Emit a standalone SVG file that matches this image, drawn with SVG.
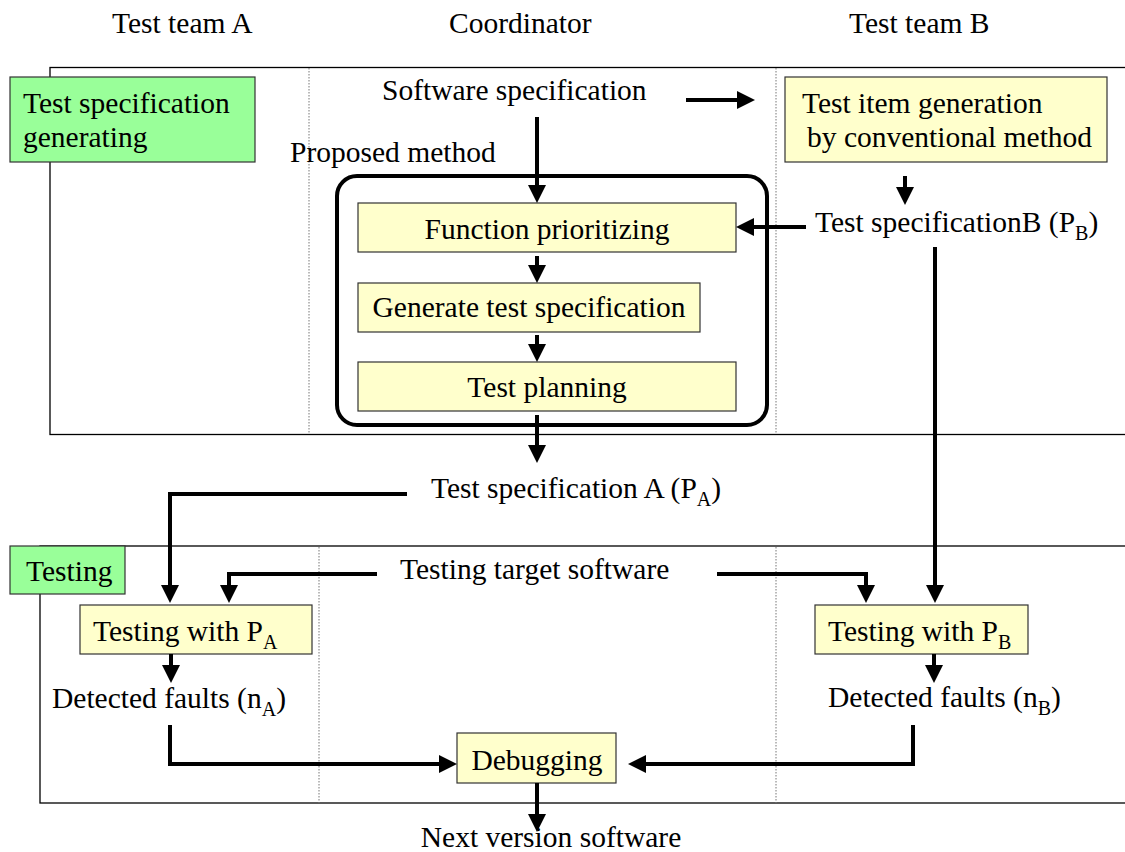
<svg xmlns="http://www.w3.org/2000/svg" width="1125" height="852" viewBox="0 0 1125 852">
<defs>
<style>
text{font-family:"Liberation Serif","Times New Roman",serif;font-size:29.5px;fill:#000}
.sub{font-size:20px}
.panel{fill:none;stroke:#000;stroke-width:1.3}
.div{stroke:#777;stroke-width:1;stroke-dasharray:1.5 1.5}
.y{fill:#FFFFCC;stroke:#333;stroke-width:1.2}
.g{fill:#99FF99;stroke:#333;stroke-width:1.2}
.c{fill:none;stroke:#000;stroke-width:4;marker-end:url(#ah)}
</style>
<marker id="ah" viewBox="0 0 18 18" refX="10" refY="9" markerWidth="18" markerHeight="18" markerUnits="userSpaceOnUse" orient="auto">
<path d="M0,0 L18,9 L0,18 z" fill="#000"/>
</marker>
</defs>
<rect width="1125" height="852" fill="#fff"/>
<g id="headers">
<text x="112" y="33">Test team A</text>
<text x="449" y="33">Coordinator</text>
<text x="849" y="33">Test team B</text>
</g>
<g id="panel-top">
<rect class="panel" x="50" y="67.5" width="1090" height="367"/>
<line class="div" x1="309" y1="68" x2="309" y2="434"/>
<line class="div" x1="776" y1="68" x2="776" y2="434"/>
</g>
<g id="panel-bottom">
<rect class="panel" x="40" y="546" width="1100" height="257"/>
<line class="div" x1="319" y1="547" x2="319" y2="803"/>
<line class="div" x1="776" y1="547" x2="776" y2="803"/>
</g>
<g id="proposed-method">
<rect x="337" y="176" width="430" height="249" rx="20" ry="20" fill="none" stroke="#000" stroke-width="4"/>
<text x="290" y="162">Proposed method</text>
</g>
<g id="test-spec-generating">
<rect class="g" x="10" y="77" width="245" height="85"/>
<text x="23" y="113">Test specification</text>
<text x="23" y="147">generating</text>
</g>
<g id="testing-label">
<rect class="g" x="10" y="546" width="115" height="48"/>
<text x="26" y="581">Testing</text>
</g>
<g id="software-spec"><text x="382" y="100">Software specification</text></g>
<g id="function-prioritizing">
<rect class="y" x="358" y="203" width="378" height="49"/>
<text x="547" y="239" text-anchor="middle">Function prioritizing</text>
</g>
<g id="generate-test-spec">
<rect class="y" x="358" y="283" width="342" height="49"/>
<text x="529" y="317" text-anchor="middle">Generate test specification</text>
</g>
<g id="test-planning">
<rect class="y" x="358" y="362" width="378" height="49"/>
<text x="547" y="397" text-anchor="middle">Test planning</text>
</g>
<g id="test-item-generation">
<rect class="y" x="785" y="77" width="322" height="85"/>
<text x="802" y="113">Test item generation</text>
<text x="807" y="147">by conventional method</text>
</g>
<g id="test-spec-b"><text x="815" y="232">Test specificationB (P<tspan class="sub" dy="8">B</tspan><tspan dy="-8">)</tspan></text></g>
<g id="test-spec-a"><text x="431" y="498">Test specification A (P<tspan class="sub" dy="8">A</tspan><tspan dy="-8">)</tspan></text></g>
<g id="testing-target"><text x="400" y="579">Testing target software</text></g>
<g id="testing-pa">
<rect class="y" x="80" y="605" width="232" height="49"/>
<text x="93" y="641">Testing with P<tspan class="sub" dy="8">A</tspan></text>
</g>
<g id="testing-pb">
<rect class="y" x="815" y="605" width="213" height="49"/>
<text x="828" y="641">Testing with P<tspan class="sub" dy="8">B</tspan></text>
</g>
<g id="faults-a"><text x="52" y="708">Detected faults (n<tspan class="sub" dy="8">A</tspan><tspan dy="-8">)</tspan></text></g>
<g id="faults-b"><text x="828" y="707">Detected faults (n<tspan class="sub" dy="8">B</tspan><tspan dy="-8">)</tspan></text></g>
<g id="debugging">
<rect class="y" x="457" y="733" width="159" height="50"/>
<text x="537" y="770" text-anchor="middle">Debugging</text>
</g>
<g id="next-version"><text x="551" y="847" text-anchor="middle">Next version software</text></g>
<g id="connectors">
<path class="c" d="M686,100 H747"/>
<path class="c" d="M537,117 V195"/>
<path class="c" d="M537,256 V275"/>
<path class="c" d="M537,335 V354"/>
<path class="c" d="M537,415 V455"/>
<path class="c" d="M905,176 V197"/>
<path class="c" d="M806,227 H744"/>
<path class="c" d="M935,247 V595"/>
<path class="c" d="M407,494 H170 V595"/>
<path class="c" d="M377,574 H229 V595"/>
<path class="c" d="M717,574 H866 V595"/>
<path class="c" d="M171,654 V675"/>
<path class="c" d="M934,654 V675"/>
<path class="c" d="M170,725 V764 H449"/>
<path class="c" d="M913,725 V764 H636"/>
<path class="c" d="M537,783 V824"/>
</g>
</svg>
